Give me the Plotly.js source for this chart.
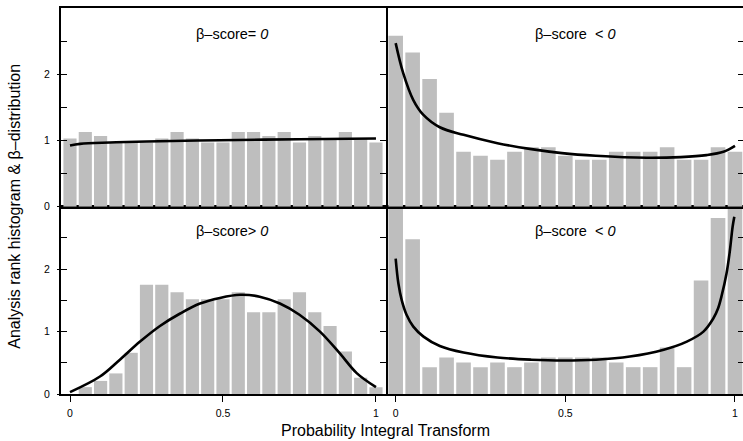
<!DOCTYPE html>
<html>
<head>
<meta charset="utf-8">
<script src="https://cdn.plot.ly/plotly-3.0.1.min.js"></script>
<style>html,body{margin:0;padding:0;background:#fff;}#chart{width:743px;height:441px;}</style>
</head>
<body>
<div id="chart"></div>
<script>
// Bin centres of the PIT histogram (21 bins)
const pit = [0, 0.05, 0.1, 0.15, 0.2, 0.25, 0.3, 0.35, 0.4, 0.45, 0.5, 0.55, 0.6, 0.65, 0.7, 0.75, 0.8, 0.85, 0.9, 0.95, 1.0];

// Histogram heights per panel
const histZero   = [1.03, 1.13, 1.07, 0.97, 0.97, 0.97, 1.03, 1.13, 1.03, 0.97, 0.97, 1.13, 1.13, 1.07, 1.13, 0.97, 1.07, 1.03, 1.13, 1.03, 0.97];
const histNegA   = [2.58, 2.33, 1.93, 1.42, 0.83, 0.77, 0.71, 0.83, 0.90, 0.90, 0.77, 0.71, 0.71, 0.83, 0.83, 0.83, 0.90, 0.71, 0.71, 0.90, 0.83];
const histPos    = [0.0, 0.11, 0.21, 0.33, 0.66, 1.75, 1.75, 1.63, 1.52, 1.52, 1.52, 1.63, 1.31, 1.31, 1.52, 1.63, 1.31, 1.09, 0.68, 0.26, 0.11];
const histNegB   = [3.3, 2.48, 0.43, 0.585, 0.505, 0.43, 0.505, 0.43, 0.505, 0.585, 0.585, 0.585, 0.585, 0.505, 0.43, 0.43, 0.745, 0.43, 1.82, 2.82, 3.3];

// Fitted beta densities
const curveZeroX = [0, 0.033, 0.13, 0.25, 0.49, 0.75, 1.0];
const curveZeroY = [0.925, 0.95, 0.97, 0.985, 1.005, 1.02, 1.03];

const curveNegAX = [0, 0.022, 0.052, 0.081, 0.13, 0.2, 0.3, 0.4, 0.49, 0.59, 0.74, 0.84, 0.916, 0.966, 1.0];
const curveNegAY = [2.47, 2.02, 1.61, 1.39, 1.2, 1.086, 0.96, 0.87, 0.81, 0.77, 0.74, 0.75, 0.78, 0.83, 0.92];

const curvePosX = [0, 0.098, 0.163, 0.229, 0.294, 0.36, 0.425, 0.49, 0.556, 0.62, 0.686, 0.75, 0.817, 0.882, 0.937, 1.0];
const curvePosY = [0.03, 0.28, 0.55, 0.84, 1.09, 1.29, 1.45, 1.54, 1.59, 1.56, 1.45, 1.27, 1.0, 0.65, 0.335, 0.11];

const curveNegBX = [0, 0.008, 0.018, 0.032, 0.052, 0.082, 0.13, 0.2, 0.3, 0.4, 0.494, 0.59, 0.69, 0.79, 0.858, 0.907, 0.936, 0.95, 0.96, 0.975, 0.985, 0.993, 0.998];
const curveNegBY = [2.17, 1.77, 1.5, 1.27, 1.08, 0.92, 0.77, 0.665, 0.585, 0.55, 0.537, 0.55, 0.6, 0.71, 0.84, 1.0, 1.21, 1.37, 1.56, 1.93, 2.3, 2.68, 2.84];

const panelTitles = ['β–score= <i>0</i>', 'β–score  &lt; <i>0</i>', 'β–score&gt; <i>0</i>', 'β–score  &lt; <i>0</i>'];

const xTickVals = [0, 0.5, 1];
const xTickText = ['0', '0.5', '1'];
const yMinorVals = [0, 0.5, 1, 1.5, 2, 2.5];
const yMajorVals = [0, 1, 2];
const yMajorText = ['0', '1', '2'];

const barColor = '#bebebe';
const FONT = 'Liberation Sans, Arial, Helvetica, sans-serif';

function bars(y, xa, ya) {
  return {type: 'bar', x: pit, y: y, xaxis: xa, yaxis: ya, marker: {color: barColor, line: {width: 0}},
          hoverinfo: 'skip', showlegend: false};
}
function curve(x, y, xa, ya) {
  return {type: 'scatter', mode: 'lines', x: x, y: y, xaxis: xa, yaxis: ya,
          line: {color: '#000', width: 2.6, shape: 'spline', smoothing: 1}, hoverinfo: 'skip', showlegend: false};
}

const data = [
  bars(histPos, 'x', 'y'),   curve(curvePosX, curvePosY, 'x', 'y'),
  bars(histNegB, 'x2', 'y2'), curve(curveNegBX, curveNegBY, 'x2', 'y2'),
  bars(histZero, 'x3', 'y3'), curve(curveZeroX, curveZeroY, 'x3', 'y3'),
  bars(histNegA, 'x4', 'y4'), curve(curveNegAX, curveNegAY, 'x4', 'y4'),
  {type: 'scatter', mode: 'markers', x: [null], y: [null], xaxis: 'x', yaxis: 'y5', showlegend: false, hoverinfo: 'skip'},
  {type: 'scatter', mode: 'markers', x: [null], y: [null], xaxis: 'x3', yaxis: 'y6', showlegend: false, hoverinfo: 'skip'}
];

const LW = 1.8;
const xL = [-0.0294, 1.0327];
const xR = [-0.0286, 1.0236];
const yR = [0, 3.0];
const dxSplit = 0.4765;
const dySplit = 0.485;

const tickFont = {family: FONT, size: 10.5, color: '#000'};

function xBottom(domain, range, anchor) {
  return {domain: domain, range: range, anchor: anchor, showgrid: false, zeroline: false,
          showline: true, linecolor: '#000', linewidth: LW, mirror: true,
          tickmode: 'array', tickvals: xTickVals, ticktext: xTickText, ticks: 'outside', ticklen: 6,
          tickwidth: 1, tickcolor: '#000', tickfont: tickFont, ticklabelstandoff: 3};
}
function xTop(domain, range, anchor) {
  return {domain: domain, range: range, anchor: anchor, showgrid: false, zeroline: false,
          showline: true, linecolor: '#000', linewidth: LW, mirror: true,
          ticks: '', showticklabels: false};
}
function yLeft(domain, anchor) {
  return {domain: domain, range: yR, anchor: anchor, showgrid: false, zeroline: false,
          showline: true, linecolor: '#000', linewidth: LW, mirror: 'ticks',
          tickmode: 'array', tickvals: yMinorVals, ticks: 'inside', ticklen: 6, tickwidth: 1, tickcolor: '#000',
          showticklabels: false};
}
function yRight(domain, anchor) {
  return {domain: domain, range: yR, anchor: anchor, side: 'right', showgrid: false, zeroline: false,
          showline: false, tickmode: 'array', tickvals: yMinorVals, ticks: 'inside', ticklen: 5, tickwidth: 1,
          tickcolor: '#000', showticklabels: false};
}
function yOverlay(base, anchor) {
  return {overlaying: base, anchor: anchor, side: 'left', range: yR, showgrid: false, zeroline: false,
          showline: false, tickmode: 'array', tickvals: yMajorVals, ticktext: yMajorText, ticks: 'outside',
          ticklen: 3, tickwidth: 1, tickcolor: '#000', tickfont: tickFont, ticklabelstandoff: 5};
}

const ann = [];
const refs = [['x3', 'y3'], ['x4', 'y4'], ['x', 'y'], ['x2', 'y2']];
for (let i = 0; i < 4; i++) {
  ann.push({text: panelTitles[i], xref: refs[i][0], yref: refs[i][1], x: 0.53, y: 2.61, showarrow: false,
            xanchor: 'center', yanchor: 'middle', font: {family: FONT, size: 14.5, color: '#000'}});
}
ann.push({text: 'Probability Integral Transform', xref: 'paper', yref: 'paper', x: dxSplit, y: 0,
          yshift: -36, xanchor: 'center', yanchor: 'middle', showarrow: false,
          font: {family: FONT, size: 16, color: '#000'}});
ann.push({text: 'Analysis rank histogram &amp; β–distribution', xref: 'paper', yref: 'paper', x: 0, y: dySplit,
          xshift: -46, xanchor: 'center', yanchor: 'middle', textangle: -90, showarrow: false,
          font: {family: FONT, size: 16, color: '#000'}});

const layout = {
  width: 743, height: 441,
  margin: {l: 61, r: 0, t: 8, b: 46.5, pad: 0},
  paper_bgcolor: '#fff', plot_bgcolor: '#fff',
  bargap: 0.14,
  showlegend: false,
  font: {family: FONT, color: '#000'},
  xaxis: xBottom([0, dxSplit], xL, 'y'),
  yaxis: yLeft([0, dySplit], 'x'),
  xaxis2: xBottom([dxSplit, 1], xR, 'y2'),
  yaxis2: yRight([0, dySplit], 'x2'),
  xaxis3: xTop([0, dxSplit], xL, 'y3'),
  yaxis3: yLeft([dySplit, 1], 'x3'),
  xaxis4: xTop([dxSplit, 1], xR, 'y4'),
  yaxis4: yRight([dySplit, 1], 'x4'),
  yaxis5: yOverlay('y', 'x'),
  yaxis6: yOverlay('y3', 'x3'),
  annotations: ann
};

Plotly.newPlot('chart', data, layout, {staticPlot: true, displayModeBar: false});
</script>
</body>
</html>
